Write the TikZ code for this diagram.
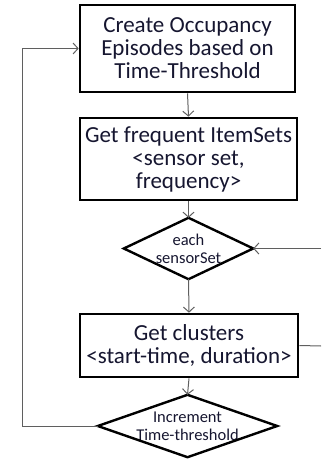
\documentclass[tikz,border=0pt]{standalone}
\usepackage{fontspec}
\setmainfont{Carlito}
\usetikzlibrary{arrows.meta}
\definecolor{txt}{RGB}{22,22,48}
\definecolor{conn}{RGB}{95,95,95}
\tikzset{
  procbox/.style={draw=black, line width=2.6pt, rectangle, inner sep=0pt, align=center,
    text=txt, font=\fontsize{23}{23}\selectfont},
  decision/.style={rectangle, inner sep=0pt, align=center,
    text=txt, font=\fontsize{16.5}{18}\selectfont},
  diamondline/.style={draw=black, line width=2.4pt, line join=miter},
  conline/.style={draw=conn, line width=1pt},
  conarrow/.style={conline, -{Straight Barb[length=5pt,width=11pt]}}
}
\begin{document}
\begin{tikzpicture}[x=1pt,y=-1pt]
\useasboundingbox (0,0) rectangle (321,462);
\node[procbox, minimum width=215pt, minimum height=87pt] (b1) at (187.5,48.5)
  {Create Occupancy\\Episodes based on\\Time-Threshold};
\node[procbox, minimum width=217pt, minimum height=82pt] (b2) at (188.5,159)
  {Get frequent ItemSets\\<sensor set,\\frequency>};
\node[decision, minimum width=129pt, minimum height=61pt] (d1) at (188.5,248.5)
  {each\\sensorSet};
\node[procbox, minimum width=218pt, minimum height=63pt] (b3) at (189,345.5)
  {Get clusters\\<start-time, duration>};
\node[decision, minimum width=179pt, minimum height=62pt] (d2) at (187.5,426)
  {Increment\\Time-threshold};
\draw[diamondline] (d1.north) -- (d1.east) -- (d1.south) -- (d1.west) -- cycle;
\draw[diamondline] (d2.north) -- (d2.east) -- (d2.south) -- (d2.west) -- cycle;
\coordinate (r1) at (321,346);
\coordinate (r2) at (321,248.5);
\coordinate (l1) at (22,426);
\coordinate (l2) at (22,48.5);
\draw[conarrow] (b1.south) -- (b2.north);
\draw[conarrow] (b2.south) -- (d1.north);
\draw[conarrow] (d1.south) -- (b3.north);
\draw[conarrow] (b3.south) -- (d2.north);
\draw[conline] (b3.east) -- (r1);
\draw[conarrow] (r2) -- (d1.east);
\draw[conarrow] (d2.west) -- (l1) -- (l2) -- (b1.west);
\end{tikzpicture}
\end{document}
